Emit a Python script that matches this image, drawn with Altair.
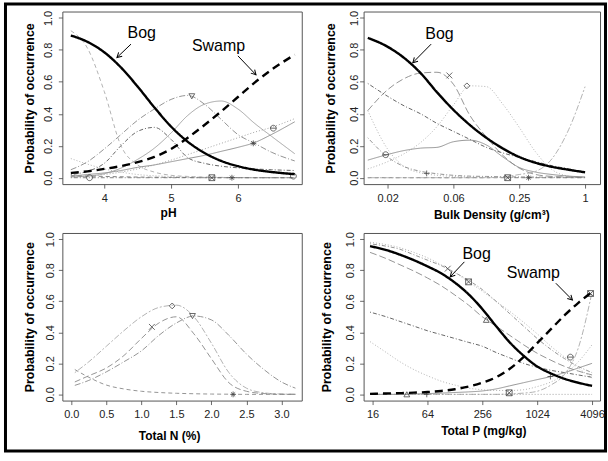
import altair as alt
import pandas as pd

# ---------------- Panel 1 : pH ----------------
ph_x = [3.5, 3.75, 4.0, 4.25, 4.5, 4.75, 5.0, 5.25, 5.5, 5.75, 6.0, 6.25, 6.5, 6.85]
ph_bog = [0.89, 0.85, 0.785, 0.69, 0.57, 0.44, 0.32, 0.225, 0.155, 0.105, 0.072, 0.05, 0.036, 0.022]
ph_swamp = [0.03, 0.04, 0.055, 0.073, 0.097, 0.13, 0.18, 0.25, 0.33, 0.415, 0.505, 0.595, 0.675, 0.77]
ph_a = [0.05, 0.1, 0.18, 0.27, 0.36, 0.43, 0.49, 0.515, 0.46, 0.365, 0.27, 0.215, 0.16, 0.105]
ph_b = [0.005, 0.01, 0.025, 0.06, 0.115, 0.185, 0.28, 0.39, 0.46, 0.48, 0.43, 0.34, 0.26, 0.15]
ph_c = [0.02, 0.04, 0.09, 0.2, 0.29, 0.315, 0.24, 0.125, 0.09, 0.072, 0.062, 0.055, 0.05, 0.045]
ph_d = [0.92, 0.81, 0.54, 0.2, 0.08, 0.035, 0.015, 0.008, 0.004, 0.002, 0.001, 0.0, 0.0, 0.0]
ph_e = [0.12, 0.085, 0.055, 0.035, 0.02, 0.012, 0.008, 0.005, 0.003, 0.002, 0.001, 0.0, 0.0, 0.0]
ph_f = [0.01, 0.02, 0.03, 0.045, 0.065, 0.08, 0.1, 0.12, 0.14, 0.165, 0.19, 0.22, 0.27, 0.35]
ph_g = [0.005, 0.01, 0.02, 0.035, 0.055, 0.08, 0.11, 0.145, 0.18, 0.215, 0.25, 0.285, 0.315, 0.37]
ph_h = [0.012, 0.01, 0.008, 0.006, 0.004, 0.003, 0.002, 0.001, 0.0, 0.0, 0.0, 0.0, 0.0, 0.0]
ph_i = [0.0, 0.0, 0.0, 0.0, 0.0, 0.0, 0.0, 0.0, 0.0, 0.0, 0.0, 0.0, 0.0, 0.0]
ph_mk_shape = ["nabla", "theta", "star", "boxx", "star", "circle", "circle"]
ph_mk_x = [5.31, 6.53, 6.23, 5.61, 5.91, 6.83, 3.78]
ph_mk_y = [0.51, 0.31, 0.215, 0.0, 0.0, 0.01, 0.0]
ph_txt = ["Bog", "Swamp"]
ph_txt_x = [4.56, 5.71]
ph_txt_y = [0.908, 0.825]
ph_arr_x = [4.40, 6.0]
ph_arr_y = [0.836, 0.7625]
ph_arr_x2 = [4.19, 6.27]
ph_arr_y2 = [0.752, 0.644]
ph_arr_ang = [137, 47]

# ---------------- Panel 2 : Bulk density ----------------
bd_x = [0.0103, 0.0156, 0.0221, 0.0313, 0.0442, 0.0625, 0.0884, 0.125, 0.177, 0.25, 0.354, 0.5, 0.707, 1.0]
bd_bog = [0.875, 0.82, 0.75, 0.655, 0.535, 0.425, 0.33, 0.25, 0.183, 0.13, 0.093, 0.068, 0.05, 0.034]
bd_cross = [0.42, 0.55, 0.62, 0.655, 0.66, 0.585, 0.39, 0.255, 0.14, 0.06, 0.02, 0.008, 0.004, 0.002]
bd_diam = [0.055, 0.1, 0.15, 0.22, 0.32, 0.455, 0.575, 0.57, 0.46, 0.315, 0.16, 0.05, 0.01, 0.0]
bd_dd = [0.59, 0.51, 0.45, 0.4, 0.34, 0.29, 0.24, 0.19, 0.155, 0.127, 0.1, 0.075, 0.055, 0.035]
bd_sg = [0.11, 0.145, 0.17, 0.185, 0.19, 0.225, 0.235, 0.205, 0.13, 0.064, 0.035, 0.02, 0.01, 0.005]
bd_dl = [0.42, 0.18, 0.07, 0.03, 0.015, 0.008, 0.005, 0.003, 0.002, 0.001, 0.0, 0.0, 0.0, 0.0]
bd_dd2 = [0.25, 0.13, 0.07, 0.04, 0.025, 0.015, 0.01, 0.008, 0.006, 0.005, 0.004, 0.003, 0.003, 0.002]
bd_zero = [0.0, 0.0, 0.0, 0.0, 0.0, 0.0, 0.0, 0.0, 0.0, 0.0, 0.0, 0.0, 0.0, 0.0]
bd_rise = [0.0, 0.0, 0.0, 0.0, 0.0, 0.0, 0.0, 0.0, 0.005, 0.02, 0.04, 0.12, 0.3, 0.57]
bd_mk_shape = ["cross", "diamond", "theta", "plus", "boxx", "star"]
bd_mk_x = [0.0574, 0.083, 0.015, 0.0356, 0.196, 0.304]
bd_mk_y = [0.64, 0.575, 0.144, 0.027, 0.0, 0.0]
bd_txt = ["Bog"]
bd_txt_x = [0.0466]
bd_txt_y = [0.898]
bd_arr_x = [0.0391]
bd_arr_y = [0.836]
bd_arr_x2 = [0.0266]
bd_arr_y2 = [0.72]
bd_arr_ang = [135]
bd_ticks = [0.015625, 0.0625, 0.25, 1.0]

# ---------------- Panel 3 : Total N ----------------
tn_x = [0.05, 0.25, 0.5, 0.75, 1.0, 1.25, 1.5, 1.75, 2.0, 2.25, 2.5, 2.75, 3.0, 3.2]
tn_diam = [0.14, 0.21, 0.31, 0.41, 0.5, 0.56, 0.575, 0.5, 0.33, 0.14, 0.04, 0.01, 0.002, 0.001]
tn_cross = [0.08, 0.12, 0.17, 0.25, 0.36, 0.46, 0.5, 0.39, 0.23, 0.075, 0.02, 0.005, 0.001, 0.0]
tn_nabla = [0.058, 0.09, 0.145, 0.21, 0.28, 0.38, 0.46, 0.505, 0.48, 0.38, 0.26, 0.16, 0.08, 0.04]
tn_star = [0.16, 0.11, 0.06, 0.035, 0.02, 0.012, 0.007, 0.004, 0.002, 0.001, 0.0, 0.0, 0.0, 0.0]
tn_mk_shape = ["diamond", "nabla", "cross", "star"]
tn_mk_x = [1.44, 1.73, 1.15, 2.31]
tn_mk_y = [0.57, 0.505, 0.435, 0.0]

# ---------------- Panel 4 : Total P ----------------
tp_x = [15, 22.6, 32, 45.3, 64, 90.5, 128, 181, 256, 362, 512, 724, 1024, 1448, 2048, 2896, 4096]
tp_bog = [0.955, 0.93, 0.9, 0.865, 0.825, 0.78, 0.72, 0.645, 0.55, 0.44, 0.335, 0.25, 0.18, 0.135, 0.1, 0.075, 0.055]
tp_swamp = [0.003, 0.006, 0.008, 0.011, 0.015, 0.022, 0.033, 0.05, 0.075, 0.11, 0.165, 0.24, 0.33, 0.42, 0.51, 0.59, 0.66]
tp_a = [0.97, 0.955, 0.935, 0.9, 0.865, 0.83, 0.785, 0.735, 0.675, 0.6, 0.52, 0.44, 0.36, 0.29, 0.23, 0.18, 0.14]
tp_b = [0.98, 0.965, 0.945, 0.915, 0.88, 0.835, 0.785, 0.725, 0.665, 0.6, 0.535, 0.465, 0.39, 0.31, 0.24, 0.17, 0.105]
tp_c = [0.915, 0.875, 0.835, 0.795, 0.75, 0.7, 0.64, 0.575, 0.5, 0.44, 0.38, 0.32, 0.265, 0.22, 0.18, 0.15, 0.125]
tp_d = [0.53, 0.5, 0.47, 0.44, 0.41, 0.385, 0.36, 0.335, 0.31, 0.27, 0.235, 0.2, 0.175, 0.155, 0.14, 0.125, 0.11]
tp_e = [0.34, 0.27, 0.21, 0.16, 0.12, 0.085, 0.06, 0.04, 0.03, 0.025, 0.025, 0.03, 0.05, 0.08, 0.13, 0.21, 0.32]
tp_f = [0.0, 0.0, 0.0, 0.0, 0.0, 0.0, 0.0, 0.0, 0.0, 0.0, 0.003, 0.008, 0.02, 0.06, 0.13, 0.3, 0.66]
tp_g = [0.0, 0.0, 0.0, 0.002, 0.005, 0.008, 0.012, 0.016, 0.022, 0.035, 0.055, 0.075, 0.095, 0.115, 0.14, 0.17, 0.2]
tp_zero = [0.0, 0.0, 0.0, 0.0, 0.0, 0.0, 0.0, 0.0, 0.0, 0.0, 0.0, 0.0, 0.0, 0.0, 0.0, 0.0, 0.0]
tp_mk_shape = ["cross", "boxx", "delta", "theta", "plus", "boxx", "delta", "plus", "boxx"]
tp_mk_x = [106.8, 180.8, 283, 2367, 1430, 3944, 38, 62.9, 505]
tp_mk_y = [0.81, 0.725, 0.48, 0.24, 0.115, 0.65, 0.0, 0.0, 0.01]
tp_txt = ["Bog", "Swamp"]
tp_txt_x = [221.6, 930]
tp_txt_y = [0.905, 0.785]
tp_arr_x = [162.7, 1641]
tp_arr_y = [0.854, 0.716]
tp_arr_x2 = [113.5, 2495]
tp_arr_y2 = [0.757, 0.608]
tp_arr_ang = [134, 45]
tp_ticks = [16, 64, 256, 1024, 4096]

# ---------------- styles ----------------
FONT = "Liberation Sans"
SOLID = [1, 0]
DASH = [4, 3]
DOT = [1, 2]
DOTDASH = [1, 2, 4, 2]
LONGDASH = [7, 3]
TWODASH = [2, 2, 6, 2]

SHAPES = {
    "nabla": "M-1,-0.85L1,-0.85L0,0.9Z",
    "delta": "M-1,0.85L1,0.85L0,-0.9Z",
    "diamond": "M0,-1L1,0L0,1L-1,0Z",
    "cross": "M-1,-1L1,1M-1,1L1,-1",
    "plus": "M-1,0L1,0M0,-1L0,1",
    "star": "M-1,0L1,0M0,-1L0,1M-0.7,-0.7L0.7,0.7M-0.7,0.7L0.7,-0.7",
    "boxx": "M-1,-1L1,-1L1,1L-1,1ZM-1,-1L1,1M-1,1L1,-1",
    "theta": "M-1,0A1,1,0,1,0,1,0A1,1,0,1,0,-1,0ZM-1,0L1,0",
    "circle": "M-1,0A1,1,0,1,0,1,0A1,1,0,1,0,-1,0Z",
}
ARROWHEAD = "M-1,-0.55L0,0L-1,0.55"

Y_SCALE = alt.Scale(domain=[-0.04, 1.04], nice=False, zero=False)


def y_axis(label_pad, title_x, h):
    return alt.Axis(values=[0, 0.2, 0.4, 0.6, 0.8, 1.0], format=".1f",
                    title="Probability of occurrence", domain=False, grid=False,
                    tickSize=4, tickColor="#444", tickWidth=0.8,
                    labelAngle=270, labelAlign="center", labelBaseline="middle",
                    labelPadding=label_pad, labelFont=FONT, labelFontSize=11,
                    labelColor="#222", labelFlush=False, labelOverlap=False,
                    titleFont=FONT, titleFontSize=12.5, titleFontWeight="bold",
                    titleColor="#000", titleAngle=270, titleAlign="center",
                    titleBaseline="middle", titleX=title_x, titleY=h / 2)


def x_axis(title, title_x, title_y, values=None, fmt=None, label_expr=None):
    kw = dict(title=title, domain=False, grid=False, tickSize=4, tickColor="#444",
              tickWidth=0.8, labelBaseline="middle", labelPadding=10, labelFont=FONT,
              labelFontSize=11, labelColor="#222", labelFlush=False, labelOverlap=False,
              titleFont=FONT, titleFontSize=12, titleFontWeight="bold", titleColor="#000",
              titleAlign="center", titleBaseline="middle", titleX=title_x, titleY=title_y)
    if values is not None:
        kw["values"] = values
    if fmt is not None:
        kw["format"] = fmt
    if label_expr is not None:
        kw["labelExpr"] = label_expr
    return alt.Axis(**kw)


def panel(x, curves, mk, txt, arr, xscale, xaxis, yaxis, w, h, frame=False):
    X = lambda f: alt.X(f + ":Q", scale=xscale, axis=xaxis)
    Y = lambda f: alt.Y(f + ":Q", scale=Y_SCALE, axis=yaxis)
    thin_rows, thick_rows = [], []
    thin_names, thin_cols, thin_dash = [], [], []
    thick_names, thick_dash = [], []
    for name, vals, col, dash, width in curves:
        if width > 1.5:
            thick_rows += [{"x": a, "y": b, "k": name} for a, b in zip(x, vals)]
            thick_names.append(name)
            thick_dash.append(dash)
        else:
            thin_rows += [{"x": a, "y": b, "s": name} for a, b in zip(x, vals)]
            thin_names.append(name)
            thin_cols.append(col)
            thin_dash.append(dash)
    layers = []
    if frame:
        layers.append(alt.Chart(pd.DataFrame({"f": [0]})).mark_rect(
            fillOpacity=0, stroke="#000", strokeWidth=3).encode(
            x=alt.value(-57), x2=alt.value(544.5), y=alt.value(-7.5), y2=alt.value(440.5)))
    layers.append(alt.Chart(pd.DataFrame(thin_rows)).mark_line(
        interpolate="monotone", strokeWidth=0.9).encode(
        x=X("x"), y=Y("y"),
        color=alt.Color("s:N", scale=alt.Scale(domain=thin_names, range=thin_cols), legend=None),
        strokeDash=alt.StrokeDash("s:N", scale=alt.Scale(domain=thin_names, range=thin_dash), legend=None),
        detail="s:N"))
    mk_df = pd.DataFrame({"x": mk[1], "y": mk[2], "shp": mk[0]})
    layers.append(alt.Chart(mk_df).mark_point(
        filled=False, size=34, strokeWidth=0.8, color="#444", opacity=1).encode(
        x=X("x"), y=Y("y"),
        shape=alt.Shape("shp:N", scale=alt.Scale(domain=list(SHAPES.keys()),
                                                 range=list(SHAPES.values())), legend=None)))
    for name, dash in zip(thick_names, thick_dash):
        rows = [r for r in thick_rows if r["k"] == name]
        layers.append(alt.Chart(pd.DataFrame(rows)).mark_line(
            interpolate="monotone", strokeWidth=2.4, color="#000", strokeDash=dash).encode(
            x=X("x"), y=Y("y")))
    if txt is not None:
        t_df = pd.DataFrame({"x": txt[1], "y": txt[2], "t": txt[0]})
        layers.append(alt.Chart(t_df).mark_text(
            font=FONT, fontSize=16, color="#000", align="center", baseline="middle").encode(
            x=X("x"), y=Y("y"), text="t:N"))
        a_df = pd.DataFrame({"x": arr[0], "y": arr[1], "x2": arr[2], "y2": arr[3], "ang": arr[4]})
        layers.append(alt.Chart(a_df).mark_rule(color="#000", strokeWidth=1).encode(
            x=X("x"), y=Y("y"), x2="x2:Q", y2="y2:Q"))
        layers.append(alt.Chart(a_df).mark_point(
            shape=ARROWHEAD, filled=False, size=90, strokeWidth=1, color="#000", opacity=1).encode(
            x=X("x2"), y=Y("y2"), angle=alt.Angle("ang:Q", scale=None)))
    return alt.layer(*layers).properties(width=w, height=h).resolve_scale(
        color="independent", strokeDash="independent", shape="independent")


W1, W2, H1, H2 = 240, 237, 173, 168

p1 = panel(
    ph_x,
    [("bog", ph_bog, "#000", SOLID, 2.4), ("swamp", ph_swamp, "#000", [8, 5], 2.4),
     ("a", ph_a, "#888", [6, 2, 1, 2], 0.9), ("b", ph_b, "#999", SOLID, 0.9),
     ("c", ph_c, "#555", DOTDASH, 0.9), ("d", ph_d, "#aaa", DASH, 0.9),
     ("e", ph_e, "#aaa", DOT, 0.9), ("f", ph_f, "#888", SOLID, 0.9),
     ("g", ph_g, "#999", DOT, 0.9), ("h", ph_h, "#777", DASH, 0.9),
     ("i", ph_i, "#777", DOTDASH, 0.9)],
    (ph_mk_shape, ph_mk_x, ph_mk_y),
    (ph_txt, ph_txt_x, ph_txt_y),
    (ph_arr_x, ph_arr_y, ph_arr_x2, ph_arr_y2, ph_arr_ang),
    alt.Scale(domain=[3.373, 6.955], nice=False, zero=False),
    x_axis("pH", 106, 28, values=[4, 5, 6], fmt="d"),
    y_axis(9.5, -32.5, H1), W1, H1, frame=True)

p2 = panel(
    bd_x,
    [("bog", bd_bog, "#000", SOLID, 2.4),
     ("cross", bd_cross, "#888", LONGDASH, 0.9), ("diam", bd_diam, "#aaa", DOT, 0.9),
     ("dd", bd_dd, "#555", DOTDASH, 0.9), ("sg", bd_sg, "#888", SOLID, 0.9),
     ("dl", bd_dl, "#aaa", DOT, 0.9), ("dd2", bd_dd2, "#888", DOTDASH, 0.9),
     ("zero", bd_zero, "#777", DASH, 0.9), ("rise", bd_rise, "#aaa", TWODASH, 0.9)],
    (bd_mk_shape, bd_mk_x, bd_mk_y),
    (bd_txt, bd_txt_x, bd_txt_y),
    (bd_arr_x, bd_arr_y, bd_arr_x2, bd_arr_y2, bd_arr_ang),
    alt.Scale(type="log", base=4, domain=[0.00943, 1.37], nice=False),
    x_axis("Bulk Density (g/cm³)", 128, 30, values=bd_ticks,
           label_expr="datum.value < 0.03 ? '0.02' : datum.value < 0.1 ? '0.06' : datum.value < 0.5 ? '0.25' : '1'"),
    y_axis(5.5, -33, H1), W2, H1)

p3 = panel(
    tn_x,
    [("diam", tn_diam, "#aaa", TWODASH, 0.9), ("cross", tn_cross, "#888", [6, 3], 0.9),
     ("nabla", tn_nabla, "#888", [6, 2, 1, 2], 0.9), ("star", tn_star, "#888", DASH, 0.9)],
    (tn_mk_shape, tn_mk_x, tn_mk_y),
    None, None,
    alt.Scale(domain=[-0.128, 3.29], nice=False, zero=False),
    x_axis("Total N (%)", 107, 35, values=[0, 0.5, 1.0, 1.5, 2.0, 2.5, 3.0], fmt=".1f"),
    y_axis(8, -33, H2), W1, H2)

p4 = panel(
    tp_x,
    [("bog", tp_bog, "#000", SOLID, 2.4), ("swamp", tp_swamp, "#000", [8, 5], 2.4),
     ("a", tp_a, "#888", DOTDASH, 0.9), ("b", tp_b, "#aaa", DOT, 0.9),
     ("c", tp_c, "#888", LONGDASH, 0.9), ("d", tp_d, "#555", DOTDASH, 0.9),
     ("e", tp_e, "#aaa", DOT, 0.9), ("f", tp_f, "#aaa", TWODASH, 0.9),
     ("g", tp_g, "#888", SOLID, 0.9), ("zero", tp_zero, "#999", DOT, 0.9)],
    (tp_mk_shape, tp_mk_x, tp_mk_y),
    (tp_txt, tp_txt_x, tp_txt_y),
    (tp_arr_x, tp_arr_y, tp_arr_x2, tp_arr_y2, tp_arr_ang),
    alt.Scale(type="log", base=4, domain=[12.75, 5008], nice=False),
    x_axis("Total P (mg/kg)", 120, 30, values=tp_ticks, fmt="d"),
    y_axis(9.5, -37, H2), W2, H2)

chart = alt.concat(p1, p2, p3, p4, columns=2, spacing={"row": 49, "column": 62},
                   bounds="flush").properties(
    padding={"left": 3.5, "top": 1, "right": 0, "bottom": 0},
    background="#ffffff",
).configure_view(stroke="#555", strokeWidth=1)

chart.save("out.html", embed_options={"renderer": "svg", "actions": False})
